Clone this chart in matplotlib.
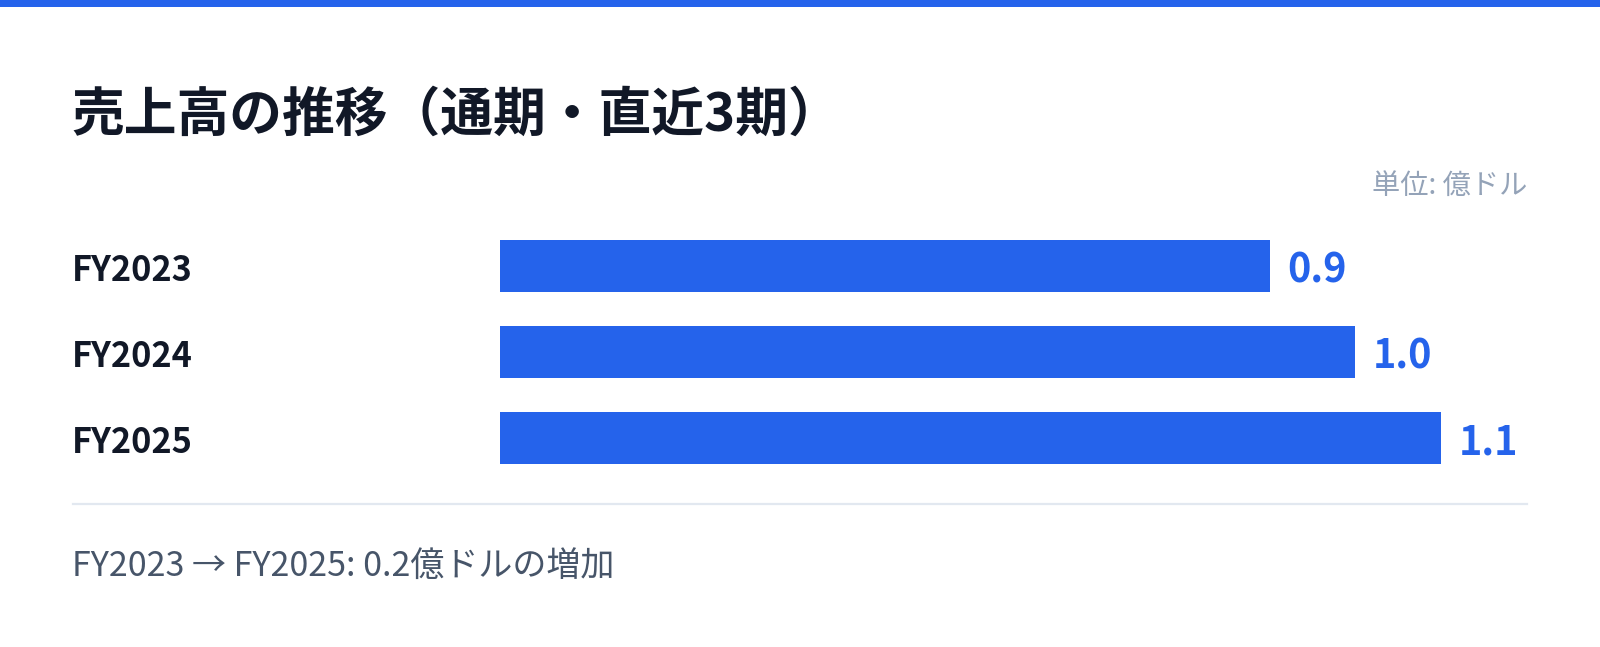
import matplotlib
matplotlib.use("Agg")
import matplotlib.pyplot as plt
from matplotlib.transforms import blended_transform_factory

plt.rcParams['font.family'] = ['Noto Sans CJK JP', 'DejaVu Sans']

# data
years = ['FY2023', 'FY2024', 'FY2025']
sales = [0.9, 1.0, 1.1]   # 億ドル
title = '売上高の推移（通期・直近3期）'
unit_note = '単位: 億ドル'
footer = 'FY2023 → FY2025: 0.2億ドルの増加'

BLUE = '#2563EB'
DARK = '#111827'

W, H = 1600, 647
fig = plt.figure(figsize=(W / 100, H / 100), dpi=100)
fig.patch.set_facecolor('white')

def fx(px):
    return px / W

def fy(py):
    return 1 - py / H

# top accent strip
fig.add_artist(plt.Rectangle((0, fy(7)), 1, 7 / H, transform=fig.transFigure,
                             color=BLUE, lw=0))

fig.text(fx(71), fy(115), title, fontsize=38, fontweight='bold', color=DARK,
         va='center', ha='left')
fig.text(fx(1527), fy(186), unit_note, fontsize=20.3, color='#94A3B8',
         va='center', ha='right')

# bar axes: x from 500px to 1527px, rows at 266/352/438px
ax = fig.add_axes([fx(500), fy(481), fx(1527) - fx(500), 258 / H])
ypos = list(range(len(years)))
ax.barh(ypos, sales, height=0.605, color=BLUE)
ax.set_xlim(0, 1027 / 855)
ax.set_ylim(2.5, -0.5)
ax.axis('off')

# CJK font metrics pull va='center' text up a little, so nudge labels down
trans = blended_transform_factory(fig.transFigure, ax.transData)
for i, (lab, v) in enumerate(zip(years, sales)):
    ax.annotate(lab, xy=(fx(72), i), xycoords=trans, xytext=(0, -3.5),
                textcoords='offset points', fontsize=24.7, fontweight='bold',
                color=DARK, va='center', ha='left')
    ax.annotate(f'{v:.1f}', xy=(v, i), xytext=(13, -3.5), textcoords='offset points',
                fontsize=28.5, fontweight='bold', color=BLUE, va='center', ha='left')

# separator
fig.add_artist(plt.Line2D([fx(73), fx(1527)], [fy(504), fy(504)],
                          transform=fig.transFigure, color='#E2E8F0', lw=1.6))

fig.text(fx(72), fy(566), footer, fontsize=24.5, color='#475569',
         va='center', ha='left')

fig.savefig('out.png', dpi=100)
